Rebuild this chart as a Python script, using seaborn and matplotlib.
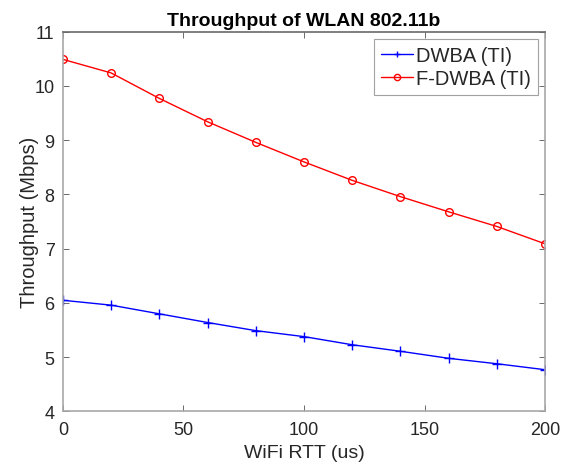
import matplotlib
matplotlib.use("Agg")
import matplotlib.pyplot as plt
import pandas as pd
import seaborn as sns

rtt_us = [0, 20, 40, 60, 80, 100, 120, 140, 160, 180, 200]
dwba_ti = [6.05, 5.96, 5.80, 5.64, 5.49, 5.38, 5.23, 5.11, 4.98, 4.88, 4.77]
fdwba_ti = [10.49, 10.24, 9.77, 9.34, 8.96, 8.60, 8.26, 7.96, 7.68, 7.41, 7.09]
series_names = ["DWBA (TI)", "F-DWBA (TI)"]
x_ticks = [0, 50, 100, 150, 200]
y_ticks = [4, 5, 6, 7, 8, 9, 10, 11]

sns.set_style("white")
plt.rcParams["font.family"] = ["Liberation Sans", "DejaVu Sans"]

axis_gray = "#a8a8a8"
text_gray = "#262626"

fig = plt.figure(figsize=(5.62, 4.64), dpi=100)
ax = fig.add_axes([0.112, 0.111, 0.858, 0.8185])

series = [
    (series_names[0], dwba_ti, "#0000ff", "+", 7),
    (series_names[1], fdwba_ti, "#ff0000", "o", 5.5),
]
for name, vals, color, mk, ms in series:
    df = pd.DataFrame({"rtt": rtt_us, "throughput": vals})
    sns.lineplot(
        data=df, x="rtt", y="throughput", ax=ax, color=color, label=name,
        linewidth=1.0, marker=mk, markersize=ms, markerfacecolor="none",
        markeredgecolor=color, markeredgewidth=1.0,
    )

ax.set_xlim(0, 200)
ax.set_ylim(4, 11)
ax.set_xticks(x_ticks)
ax.set_yticks(y_ticks)
ax.tick_params(direction="in", length=4, width=0.7, color="#6a6a6a",
               top=True, right=True, bottom=True, left=True,
               labelsize=13, labelcolor=text_gray)
ax.tick_params(axis="x", pad=7)
ax.tick_params(axis="y", pad=6)
for sp in ax.spines.values():
    sp.set_color(axis_gray)
    sp.set_linewidth(1.2)
    sp.set_visible(True)
ax.spines["top"].set_color("#6a6a6a")

ax.set_xlabel("WiFi RTT (us)", fontsize=14, color=text_gray, labelpad=4)
ax.set_ylabel("Throughput (Mbps)", fontsize=14.5, color=text_gray, labelpad=-3)
ax.set_title("Throughput of WLAN 802.11b", fontsize=14, fontweight="bold",
             color="black", pad=5)

leg = ax.legend(loc="upper right", fontsize=14.5, frameon=True, fancybox=False,
                edgecolor="#8a8a8a", borderaxespad=0.35, handlelength=1.6,
                handletextpad=0.15, borderpad=0.35, labelspacing=0.2)
leg.get_frame().set_linewidth(0.8)
for h in leg.get_lines():
    h.set_markersize(4.5)

fig.savefig("out.png", dpi=100, facecolor="white")
